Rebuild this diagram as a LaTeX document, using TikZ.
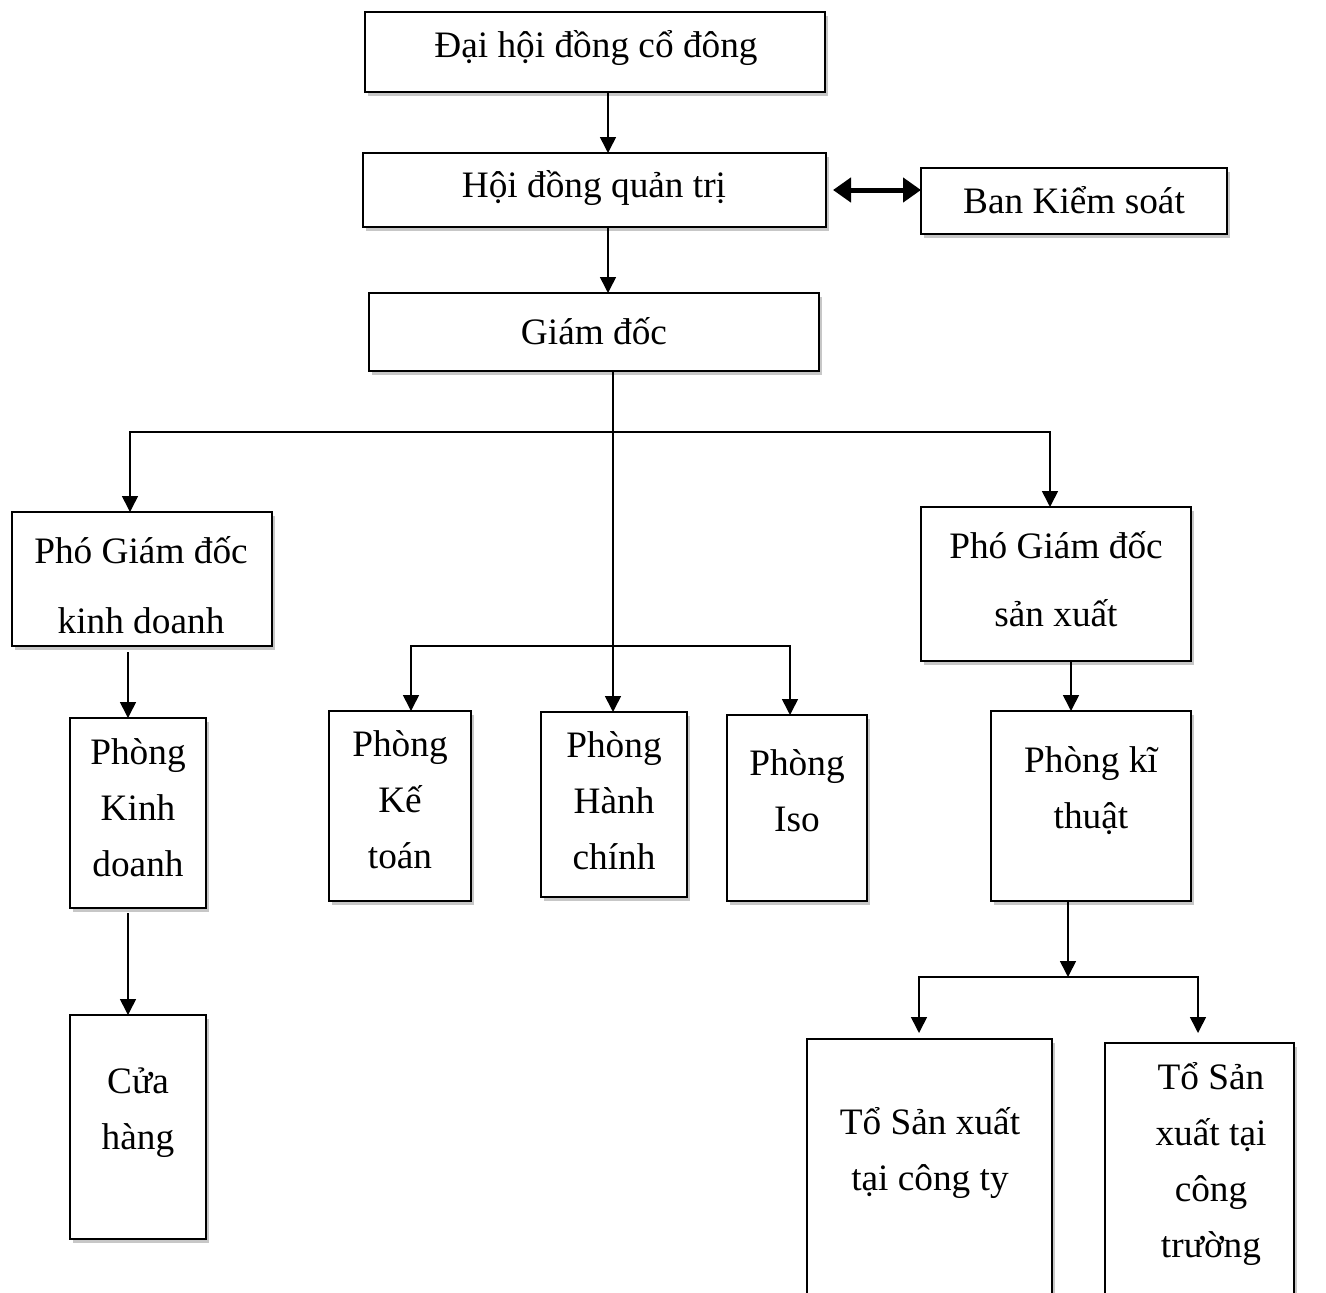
\documentclass[tikz,border=0pt]{standalone}
\usepackage{fontspec}
\setmainfont{Liberation Serif}
\usetikzlibrary{arrows.meta,shadows,fit}
\begin{document}
\begin{tikzpicture}[x=1pt,y=-1pt,
  box/.style={draw, line width=1.6pt, fill=white, inner sep=0pt, outer sep=0pt,
    drop shadow={shadow xshift=3pt, shadow yshift=-4pt, opacity=0.4, fill=black!55}},
  txt/.style={font=\fontsize{37.3}{56}\selectfont, align=center, inner sep=0pt},
  conn/.style={line width=1.6pt, -{Triangle[width=16pt,length=16pt]}},
  dbl/.style={line width=5pt, {Triangle[width=24pt,length=18pt]}-{Triangle[width=24pt,length=18pt]}}]
\clip (0,0) rectangle (1326,1293);
\fill[white] (0,0) rectangle (1326,1293);
% boxes
\node[box, fit={(365,12) (825,92)}] (dh) {};
\node[box, fit={(363,153) (826,227)}] (hd) {};
\node[box, fit={(921,168) (1227,234)}] (bks) {};
\node[box, fit={(369,293) (819,371)}] (gd) {};
\node[box, fit={(12,512) (272,646)}] (pk) {};
\node[box, fit={(70,718) (206,908)}] (pkd) {};
\node[box, fit={(70,1015) (206,1239)}] (ch) {};
\node[box, fit={(329,711) (471,901)}] (kt) {};
\node[box, fit={(541,712) (687,897)}] (hc) {};
\node[box, fit={(727,715) (867,901)}] (iso) {};
\node[box, fit={(921,507) (1191,661)}] (ps) {};
\node[box, fit={(991,711) (1191,901)}] (kth) {};
\node[box, fit={(807,1039) (1052,1320)}] (tct) {};
\node[box, fit={(1105,1043) (1294,1320)}] (tctr) {};
% texts
\node[txt] (tdh) at (596,48) {Đại hội đồng cổ đông};
\node[txt] (thd) at (594,188) {Hội đồng quản trị};
\node[txt] (tbks) at (1074,200) {Ban Kiểm soát};
\node[txt] (tgd) at (594,331) {Giám đốc};
\node[txt] (tpk) at (141,585) {Phó Giám đốc\\[14pt]kinh doanh};
\node[txt] (tpkd) at (138,808) {Phòng\\Kinh\\doanh};
\node[txt] (tch) at (138,1113) {Cửa\\hàng};
\node[txt] (tkt) at (400,800) {Phòng\\Kế\\toán};
\node[txt] (thc) at (614,801) {Phòng\\Hành\\chính};
\node[txt] (tiso) at (797,791) {Phòng\\Iso};
\node[txt] (tps) at (1056,579) {Phó Giám đốc\\[12pt]sản xuất};
\node[txt] (tkth) at (1091,791) {Phòng kĩ\\thuật};
\node[txt] (ttct) at (930,1153) {Tổ Sản xuất\\tại công ty};
\node[txt] (ttctr) at (1211,1164) {Tổ Sản\\xuất tại\\công\\trường};
% helper coordinates
\coordinate (c1) at (608,0);
\coordinate (c2) at (613,0);
\coordinate (c4) at (128,0);
\coordinate (c5) at (1071,0);
\coordinate (bL) at (130,432);
\coordinate (bR) at (1050,432);
\coordinate (kL) at (411,646);
\coordinate (kR) at (790,646);
\coordinate (c6) at (1068,977);
\coordinate (tL) at (919,977);
\coordinate (tR) at (1198,977);
% connectors
\draw[conn] (dh.south -| c1) -- (hd.north -| c1);
\draw[conn] (hd.south -| c1) -- (gd.north -| c1);
\draw[dbl] ([xshift=7pt]hd.east) -- (bks.west |- hd.east);
\draw[conn] (gd.south -| c2) -- (hc.north -| c2);
\draw[conn] (bR) -- (bL) -- (pk.north -| bL);
\draw[conn] (bL) -- (bR) -- (ps.north -| bR);
\draw[conn] (kR) -- (kL) -- (kt.north -| kL);
\draw[conn] (kL) -- (kR) -- (iso.north -| kR);
\draw[conn] ([yshift=-6pt]pk.south -| c4) -- (pkd.north -| c4);
\draw[conn] ([yshift=-5pt]pkd.south -| c4) -- (ch.north -| c4);
\draw[conn] (ps.south -| c5) -- (kth.north -| c5);
\draw[conn] (kth.south -| c6) -- (c6);
\draw[conn] (tR) -- (tL) -- ([yshift=6pt]tct.north -| tL);
\draw[conn] (tL) -- (tR) -- ([yshift=10pt]tctr.north -| tR);
\end{tikzpicture}
\end{document}
